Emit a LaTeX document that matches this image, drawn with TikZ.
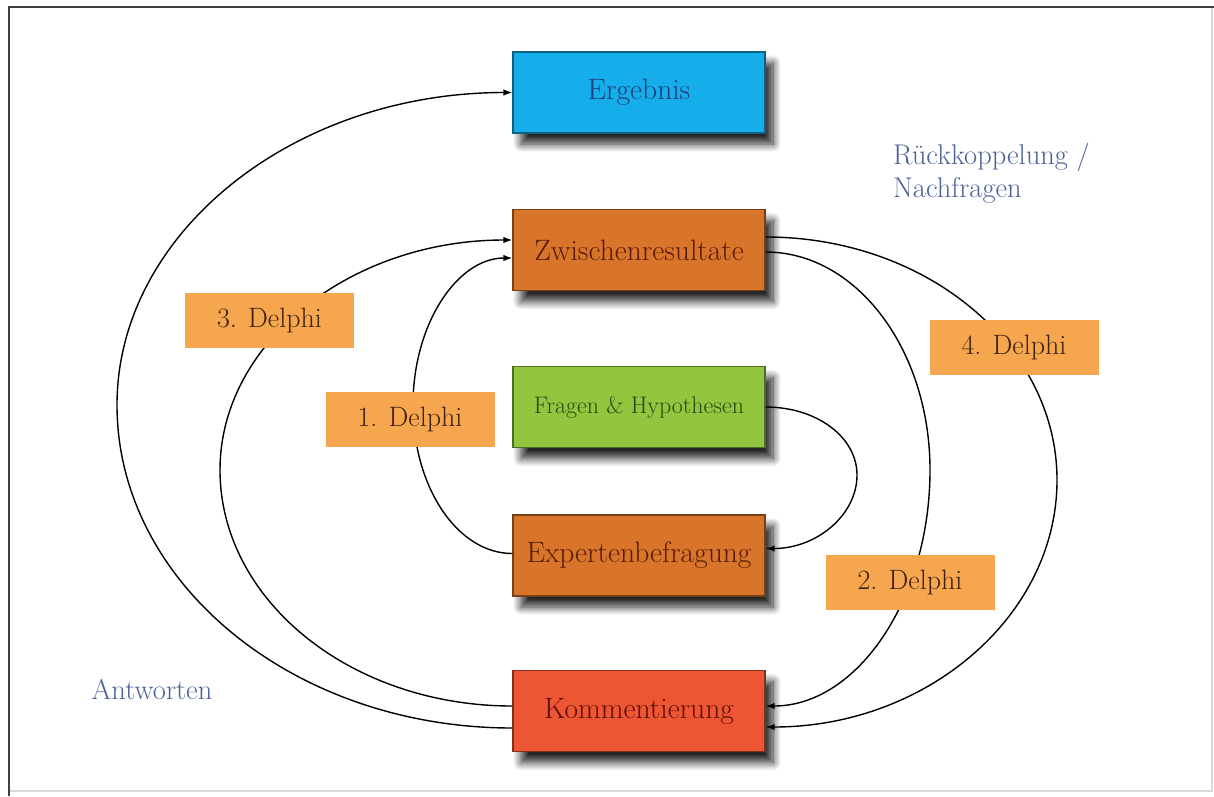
\documentclass[tikz,border=0pt]{standalone}
\usepackage{fontspec}
\usetikzlibrary{arrows.meta,shadows.blur,calc}
\definecolor{ergfill}{HTML}{15AEEA}
\definecolor{ergtext}{HTML}{1D3F7A}
\definecolor{zwfill}{HTML}{D8752B}
\definecolor{zwtext}{HTML}{5A1C06}
\definecolor{frfill}{HTML}{92C63F}
\definecolor{frtext}{HTML}{2C4812}
\definecolor{kofill}{HTML}{EE5532}
\definecolor{kotext}{HTML}{5C100A}
\definecolor{delfill}{HTML}{F6A64F}
\definecolor{deltext}{HTML}{3E2210}
\definecolor{bluetext}{HTML}{4C6196}
\tikzset{
  boxstyle/.style={draw=#1!55!black, fill=#1, line width=1.3pt,
    minimum width=252pt, minimum height=81pt, inner sep=0pt,
    blur shadow={shadow xshift=8pt, shadow yshift=-11pt, shadow blur radius=8pt, shadow blur steps=12, shadow opacity=85},
    font=\fontsize{29.5}{34}\selectfont},
  delphistyle/.style={fill=delfill, text=deltext, minimum width=169pt, minimum height=55pt,
    inner sep=0pt, font=\fontsize{28}{32}\selectfont},
  conn/.style={line width=1.4pt, black},
  arr/.style={conn, -{Latex[length=9pt,width=6.5pt]}},
  note/.style={text=bluetext, font=\fontsize{28.5}{33}\selectfont, inner sep=0pt}
}
\begin{document}
\begin{tikzpicture}[x=1pt,y=-1pt]
\useasboundingbox (0,0) rectangle (1214,796);
% frame
\draw[line width=1.2pt, black!15] (1212,7) -- (1212,791) -- (9,791);
\draw[line width=2.6pt, black!75] (9,796) -- (9,7) -- (1214,7);

% boxes
\node[boxstyle=ergfill, text=ergtext] (erg) at (639,92.5) {Ergebnis};
\node[boxstyle=zwfill, text=zwtext] (zw) at (639,250) {Zwischenresultate};
\node[boxstyle=frfill, text=frtext, font=\fontsize{24}{28}\selectfont] (fr) at (639,407) {Fragen \& Hypothesen};
\node[boxstyle=zwfill, text=zwtext] (ex) at (639,555.5) {Expertenbefragung};
\node[boxstyle=kofill, text=kotext] (ko) at (639,711) {Kommentierung};

% waypoints
\coordinate (wa) at (117,405);
\coordinate (wb) at (220,470);
\coordinate (wc) at (413,405);
\coordinate (wd) at (857,475);
\coordinate (we) at (930,470);
\coordinate (wf) at (1057,480);

% connectors
\draw[arr] ($(ko.west)+(0,17)$) .. controls +(-219,0) and +(0,178) .. (wa)
  .. controls +(0,-172) and +(-219,0) .. (erg.west);
\draw[arr] ($(ko.west)+(0,-5)$) .. controls +(-162,0) and +(0,130) .. (wb)
  .. controls +(0,-127) and +(-162,0) .. ($(zw.west)+(0,-10)$);
\draw[arr] ($(ex.west)+(0,-2)$) .. controls +(-55,0) and +(0,82) .. (wc)
  .. controls +(0,-81) and +(-55,0) .. ($(zw.west)+(0,8)$);
\draw[arr] (fr.east) .. controls +(51,0) and +(0,-38) .. (wd)
  .. controls +(0,40) and +(51,0) .. ($(ex.east)+(0,-7)$);
\draw[arr] ($(zw.east)+(0,2)$) .. controls +(91,0) and +(0,-120) .. (we)
  .. controls +(0,130) and +(91,0) .. ($(ko.east)+(0,-5)$);
\draw[arr] ($(zw.east)+(0,-13)$) .. controls +(161,0) and +(0,-134) .. (wf)
  .. controls +(0,136) and +(161,0) .. ($(ko.east)+(0,16)$);

% delphi labels
\node[delphistyle] (d3) at (269.5,320.5) {3. Delphi};
\node[delphistyle] (d1) at (410,419.5) {1. Delphi};
\node[delphistyle] (d4) at (1014,347.5) {4. Delphi};
\node[delphistyle] (d2) at (910,582.5) {2. Delphi};

% notes
\node[note, anchor=north west, align=left] (rk) at (893,143) {Rückkoppelung /\\Nachfragen};
\node[note] (an) at (152,690) {Antworten};
\end{tikzpicture}
\end{document}
